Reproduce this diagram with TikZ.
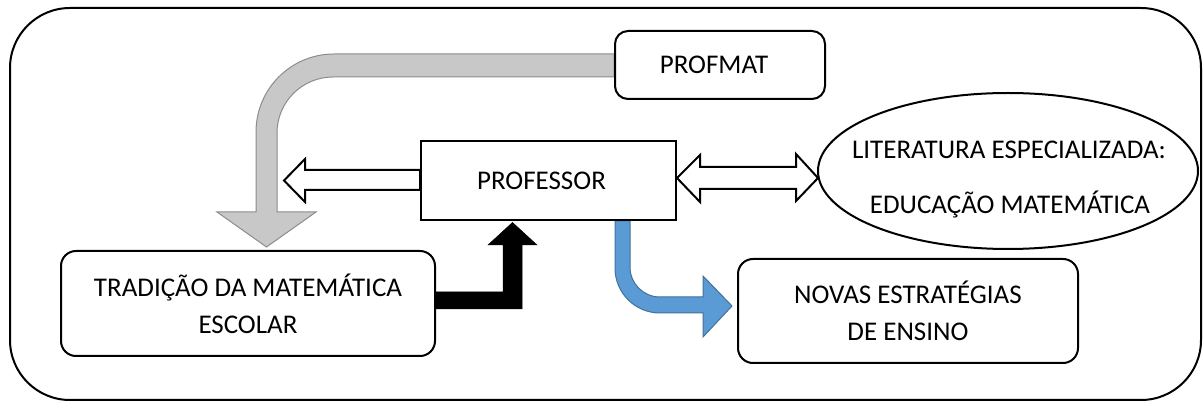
\documentclass[tikz,border=0pt]{standalone}
\usepackage{fontspec}
\setmainfont{Carlito}
\usetikzlibrary{shapes.geometric,calc}
\definecolor{grayfill}{RGB}{200,200,200}
\definecolor{grayline}{RGB}{140,140,140}
\definecolor{bluefill}{RGB}{91,155,213}
\definecolor{blueline}{RGB}{65,113,156}
\pgfdeclarelayer{background}
\pgfsetlayers{background,main}
\begin{document}
\begin{tikzpicture}[x=1pt,y=-1pt,
  txt/.style={font=\fontsize{27}{37}\selectfont,align=center,inner sep=0pt},
  captxt/.style={txt,text height=17.4pt,text depth=0pt},
  rbox/.style={txt,draw,line width=2pt,fill=white,rounded corners=13pt},
  sbox/.style={txt,draw,line width=2pt,fill=white},
  ebox/.style={draw,line width=2pt,fill=white,ellipse,inner sep=0pt},
  grayarrow/.style={fill=grayfill,draw=grayline,line width=1pt,line join=miter},
  blackarrow/.style={fill=black,draw=black,line width=0.5pt},
  bluearrow/.style={fill=bluefill,draw=blueline,line width=1pt},
  whitearrow/.style={fill=white,draw=black,line width=2pt,line join=miter}]
\useasboundingbox (0,0) rectangle (1203,403);
\draw[line width=2pt,rounded corners=60pt] (10,8) rectangle (1201,400);

\node[rbox,minimum width=210pt,minimum height=68pt] (profmat) at (720,65) {PROFMAT\hspace*{12pt}};
\node[sbox,minimum width=255pt,minimum height=79pt] (prof) at (548.5,180.5) {PROFESSOR\hspace*{14pt}};
\node[ebox,minimum width=380pt,minimum height=156pt] (lit) at (1008,171) {};
\node[captxt] (lit1) at (1009,150) {LITERATURA ESPECIALIZADA:};
\node[captxt] (lit2) at (1010,205) {EDUCAÇÃO MATEMÁTICA};
\node[rbox,minimum width=374pt,minimum height=105pt,rounded corners=15pt] (trad) at (248,303.5)
  {TRADIÇÃO DA MATEMÁTICA\\ESCOLAR};
\node[rbox,minimum width=340pt,minimum height=104pt,rounded corners=15pt] (novas) at (908,311)
  {NOVAS ESTRATÉGIAS\\DE ENSINO};

\begin{pgfonlayer}{background}
% gray bent arrow from PROFMAT down to TRADICAO
\draw[grayarrow] ($(profmat.west)+(0,-11)$) -- (334,54)
  .. controls (290.9,54) and (256,88.9) .. (256,132) -- (256,212) -- (217,212)
  -- ($(trad.north)+(18.5,-3)$) -- (316,212) -- (277,212) -- (277,133)
  .. controls (277,102.1) and (302.1,77) .. (333,77) -- ($(profmat.west)+(0,12)$) -- cycle;
% black bent arrow from TRADICAO up to PROFESSOR
\draw[blackarrow] ($(trad.east)+(0,-11.5)$) -- (503,292) -- (503,245) -- (488,245)
  -- ($(prof.south)+(-36,1.5)$) -- (537,245) -- (522,245) -- (522,309) -- ($(trad.east)+(0,5.5)$) -- cycle;
% blue bent arrow from PROFESSOR to NOVAS
\draw[bluearrow] ($(prof.south)+(66.5,0)$) -- (615,268)
  .. controls (615,292.9) and (635.1,313) .. (660,313) -- (703,313) -- (703,337)
  -- ($(novas.west)+(-5,-5)$) -- (703,276) -- (703,297) -- (660,297)
  .. controls (643.4,297) and (630,283.6) .. (630,267) -- ($(prof.south)+(81.5,0)$) -- cycle;
% white arrow from PROFESSOR to the left
\draw[whitearrow] ($(prof.west)+(0,-10.5)$) -- (305,170) -- (305,159) -- (284,180.5)
  -- (305,202) -- (305,190) -- ($(prof.west)+(0,9.5)$) -- cycle;
% white double arrow between PROFESSOR and LITERATURA
\draw[whitearrow] ($(prof.east)+(0,-2.5)$) -- (700,155) -- (700,167) -- (796,167) -- (796,154)
  -- ($(lit.west)+(1,7)$) -- (796,201) -- (796,189) -- (700,189) -- (700,202) -- cycle;
\end{pgfonlayer}
\end{tikzpicture}
\end{document}
